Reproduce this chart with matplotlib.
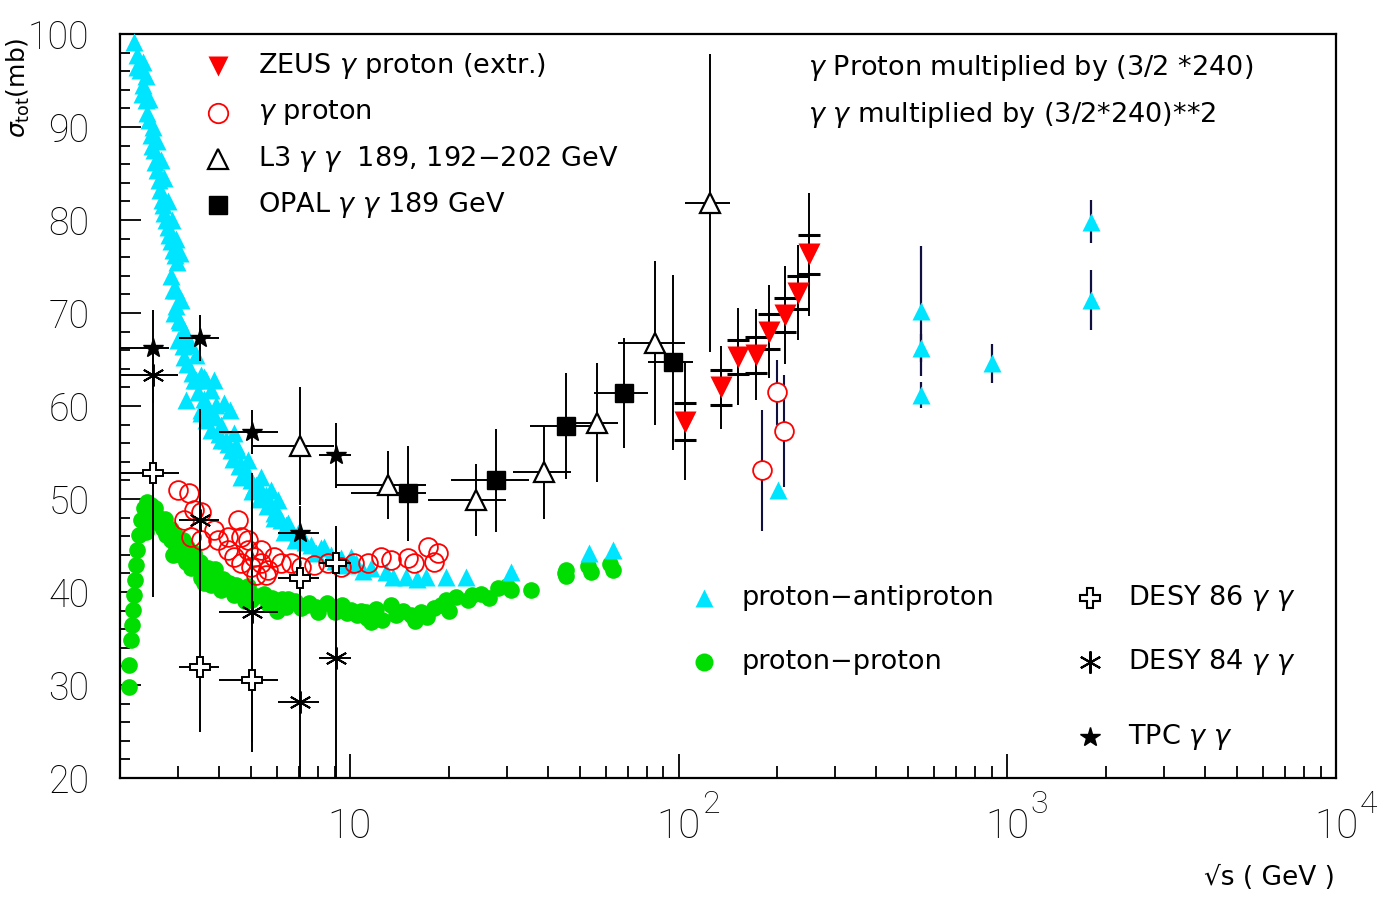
import numpy as np
import matplotlib
matplotlib.use("Agg")
import matplotlib.pyplot as plt

plt.rcParams['font.family'] = ['DejaVu Sans']
plt.rcParams['mathtext.fontset'] = 'dejavusans'

TICKFONT = ['Roboto', 'DejaVu Sans']

# ---------------- data ----------------
# proton-proton (green)
pp_x = [2.13, 2.13, 2.16, 2.175, 2.19, 2.205, 2.22, 2.236, 2.252, 2.284, 2.316, 2.365, 2.415,
        2.484, 2.572, 2.664, 2.758, 2.857, 2.958, 3.064, 3.173, 3.286, 3.525, 3.78, 4.055, 4.44,
        5.0, 5.634, 6.39, 7.097, 7.88, 8.94, 10.07, 11.18, 11.58, 13.32, 13.8, 15.33, 16.44, 18.0,
        19.58, 21.0, 22.84, 25.01, 28.17, 30.86, 35.5, 45.35, 45.35, 54.0, 63.0,
        2.5, 2.7, 3.0, 3.4, 3.9, 4.5, 5.5, 6.5, 7.5, 9.5,
        2.4, 2.9, 3.6, 4.8, 6.0, 8.0, 10.5, 12.5,
        2.45, 2.55, 2.6, 2.75, 2.85, 2.95, 3.1, 3.2, 3.35, 3.5, 3.7, 3.9, 4.1, 4.3, 4.6, 4.9,
        5.2, 5.8, 6.2, 6.8, 7.4, 8.5, 9.0, 9.8, 10.8, 11.3, 12.0, 14.5, 15.8, 17.2, 19.0, 20.0,
        23.5, 26.5, 30.0, 45.0, 53.0, 62.0]
pp_y = [32.2, 29.8, 34.8, 36.5, 38.1, 39.7, 41.3, 42.9, 44.5, 46.1, 47.7, 49.0, 49.7,
        49.4, 48.3, 47.2, 46.1, 45.6, 44.7, 44.0, 43.2, 42.6, 41.5, 40.8, 40.2, 39.7,
        39.1, 38.7, 38.4, 38.3, 38.4, 38.4, 38.1, 37.8, 36.8, 38.6, 37.5, 37.5, 37.8, 38.3,
        39.1, 39.5, 39.1, 39.8, 40.4, 40.2, 40.2, 41.7, 42.4, 42.2, 42.4,
        47.5, 46.8, 45.2, 43.3, 41.8, 40.8, 39.8, 39.2, 38.8, 38.6,
        46.5, 44.0, 41.0, 39.0, 38.0, 37.8, 37.5, 37.0,
        48.5, 49.0, 47.5, 47.8, 46.8, 46.0, 45.6, 44.8, 44.2, 43.2, 42.6, 42.5, 41.4, 41.0, 40.3, 40.6,
        39.6, 39.4, 39.3, 39.0, 38.6, 38.8, 37.9, 37.7, 38.0, 37.2, 38.2, 38.0, 36.9, 37.3, 38.6, 38.0,
        39.7, 39.4, 40.6, 42.0, 42.8, 43.0]

# proton-antiproton (cyan)
ppbar_x = [2.205, 2.252, 2.30, 2.349, 2.399, 2.449, 2.484, 2.537, 2.591, 2.645, 2.701, 2.758,
           2.817, 2.897, 2.979, 2.958, 3.064, 3.021, 3.129, 3.173, 3.286, 3.403, 3.173, 3.403,
           3.525, 3.65, 3.78, 3.915, 3.525, 3.65, 3.78, 4.055, 4.2, 4.348, 4.503, 4.664, 4.83,
           5.0, 5.18, 5.364, 5.556, 5.753, 5.958, 6.17, 6.39, 6.619, 7.097, 7.61, 8.165, 8.754,
           9.39, 10.43, 11.58, 12.87, 14.8, 17.02, 19.58, 22.52, 30.86, 53.27, 63.0, 201.0,
           2.917, 3.0, 3.129, 3.356, 3.598, 3.86, 3.525, 3.78, 4.14, 4.33, 4.055, 4.44, 4.566,
           4.898, 4.664, 5.364, 5.753, 5.11, 6.043, 5.875, 6.48, 6.95, 8.34, 10.07,
           2.85, 2.9, 2.95, 3.05, 3.1, 3.2, 3.3, 3.45, 3.6, 3.7, 3.85, 4.0, 4.25, 4.4, 4.6, 4.75,
           5.05, 5.3, 5.6, 5.9, 6.3, 6.8, 7.3, 7.9, 9.0, 9.8, 11.0, 13.5, 16.0,
           2.26, 2.33, 2.42, 2.5, 2.56, 2.62, 2.68, 2.73, 2.79, 2.86, 2.93,
           2.35, 2.4, 2.45, 2.52, 2.6, 2.66, 2.72, 2.8, 2.88, 2.95, 3.05]
ppbar_y = [99.1, 97.7, 96.1, 94.5, 92.9, 90.8, 89.1, 87.5, 85.4, 83.2, 81.6, 80.0,
           78.4, 76.8, 75.5, 72.5, 71.4, 69.2, 68.2, 67.1, 66.6, 65.5, 60.6, 62.8,
           63.3, 62.8, 61.7, 60.1, 59.6, 58.5, 57.4, 58.0, 56.3, 55.3, 55.8, 53.7, 53.1,
           52.0, 51.5, 51.0, 50.4, 49.4, 48.8, 47.7, 47.2, 46.7, 46.1, 45.1, 44.7, 44.0,
           43.7, 43.1, 42.6, 42.2, 41.6, 41.6, 41.6, 41.6, 42.2, 44.2, 44.5, 51.0,
           70.0, 67.1, 65.3, 62.8, 63.1, 62.8, 59.2, 58.8, 60.3, 59.6, 56.3, 57.1, 55.3,
           54.2, 52.4, 52.4, 51.0, 51.3, 49.9, 48.5, 47.4, 46.3, 44.8, 43.8,
           74.0, 72.5, 70.8, 69.0, 66.5, 64.5, 63.6, 61.5, 60.8, 59.8, 59.0, 57.0, 55.9, 54.3, 53.6, 52.6,
           50.9, 50.0, 49.3, 48.0, 46.5, 45.6, 45.4, 44.2, 43.3, 42.9, 42.3, 41.6, 41.4,
           96.5, 93.5, 91.5, 88.0, 86.2, 84.3, 82.2, 80.8, 79.2, 77.7, 76.2,
           97.0, 95.5, 93.0, 90.0, 88.5, 86.5, 84.5, 82.0, 80.0, 78.0, 76.5]

# high-energy proton-antiproton with errors
ppbar_he_x = [546, 546, 546, 900, 1800, 1800]
ppbar_he_y = [70.2, 66.2, 61.2, 64.6, 79.8, 71.4]
ppbar_he_err = [7.0, 1.5, 1.4, 2.1, 2.3, 3.2]

# gamma proton (red open circles)
gp_x = [3.0, 3.24, 3.356, 3.129, 3.525, 3.286, 3.525, 3.86, 3.97, 4.258, 4.566, 4.664, 4.898,
        4.258, 4.44, 4.898, 5.11, 5.364, 4.664, 5.0, 5.364, 5.634, 5.875, 6.17, 6.619, 7.097,
        7.77, 8.575, 9.39, 10.28, 11.34, 12.43, 13.32, 15.01, 15.65, 17.26, 18.51, 18.0,
        5.18, 5.556]
gp_y = [51.0, 50.6, 48.8, 47.7, 48.6, 45.9, 45.6, 46.7, 45.6, 45.9, 47.7, 45.9, 45.6,
        44.5, 43.8, 44.5, 43.8, 44.5, 43.1, 42.7, 43.1, 42.4, 43.8, 43.1, 43.1, 42.7,
        42.9, 43.1, 42.7, 43.1, 43.1, 43.8, 43.4, 43.7, 43.1, 44.8, 44.2, 43.2,
        41.8, 41.8]
gp_he_x = [180.0, 200.0, 210.0]
gp_he_y = [53.1, 61.5, 57.3]
gp_he_err = [6.5, 3.5, 6.0]

# ZEUS gamma proton (extr.)
zeus_x = [104.3, 134.2, 152.2, 172.6, 189.1, 211.5, 231.5, 250.1]
zeus_y = [58.3, 62.0, 65.3, 65.5, 68.0, 69.8, 72.2, 76.3]
zeus_stat = [2.0, 1.9, 1.85, 1.9, 1.85, 1.85, 1.75, 2.1]
zeus_tot = [6.3, 4.5, 5.2, 4.9, 5.0, 5.3, 5.1, 6.6]

# L3 gamma gamma
l3_x = [7.047, 13.05, 24.15, 38.9, 56.33, 85.1, 125.1]
l3_y = [55.7, 51.5, 49.9, 52.9, 58.2, 66.8, 81.8]
l3_yerr = [6.3, 3.7, 3.9, 5.0, 6.4, 8.8, 16.0]
l3_xlo = [5.07, 9.07, 17.26, 31.29, 46.96, 65.26, 105.0]
l3_xhi = [8.94, 17.0, 29.8, 46.96, 65.26, 105.0, 143.9]

# OPAL gamma gamma
opal_x = [15.01, 27.79, 45.35, 68.06, 95.9]
opal_y = [50.6, 52.0, 57.8, 61.4, 64.7]
opal_yerr = [5.1, 5.5, 5.7, 5.9, 9.4]
opal_xlo = [10.07, 20.28, 35.25, 55.15, 80.5]
opal_xhi = [17.02, 35.0, 55.15, 80.5, 110.3]

# DESY 86 gamma gamma
d86_x = [2.519, 3.50, 5.037, 7.047, 9.07]
d86_y = [52.8, 31.9, 30.5, 41.5, 43.1]
d86_yerr = [13.3, 7.0, 6.6, 4.0, 4.0]
d86_xlo = [2.01, 3.02, 4.0, 6.043, 8.05]
d86_xhi = [3.02, 4.0, 6.043, 8.05, 10.07]

# DESY 84 gamma gamma
d84_x = [2.519, 3.50, 5.037, 7.047, 9.07]
d84_y = [63.3, 47.7, 37.8, 28.2, 32.9]
d84_yerr = [3.0, 12.0, 15.0, 10.0, 14.0]
d84_xlo = [2.01, 3.02, 4.0, 6.043, 8.05]
d84_xhi = [3.0, 4.0, 6.043, 8.05, 10.07]

# TPC gamma gamma
tpc_x = [2.519, 3.50, 5.037, 7.047, 9.07]
tpc_y = [66.2, 67.3, 57.2, 46.3, 54.7]
tpc_yerr = [4.1, 2.5, 2.4, 3.0, 3.5]
tpc_xlo = [2.01, 3.021, 4.0, 6.043, 8.05]
tpc_xhi = [2.817, 4.0, 6.043, 8.05, 10.07]

x_decades = [10, 100, 1000, 10000]
x_decade_exp = ["", "2", "3", "4"]
y_major = [20, 30, 40, 50, 60, 70, 80, 90, 100]

# ---------------- colours ----------------
CYAN = '#00e5ff'
GREEN = '#00dd00'
RED = '#ff0000'

fig = plt.figure(figsize=(13.86, 9.09), dpi=100)
ax = fig.add_axes([0.0866, 0.1441, 0.8773, 0.8185])
ax.set_xscale('log')
ax.set_xlim(2, 1e4)
ax.set_ylim(20, 100)


def xe(x, lo, hi):
    x = np.asarray(x)
    return [x - np.asarray(lo), np.asarray(hi) - x]


# green proton-proton
ax.plot(pp_x, pp_y, 'o', color=GREEN, ms=12, mec='none', zorder=2, clip_on=False)
# cyan proton-antiproton
ax.plot(ppbar_x, ppbar_y, '^', color=CYAN, ms=12.5, mec='none', zorder=3, clip_on=False)
ax.errorbar(ppbar_he_x, ppbar_he_y, yerr=ppbar_he_err, fmt='none', ecolor='#101040',
            elinewidth=1.6, zorder=3)
ax.plot(ppbar_he_x, ppbar_he_y, '^', color=CYAN, ms=12.5, mec='none', zorder=3.5)

# gamma proton circles
ax.plot(gp_x, gp_y, 'o', mfc='none', mec=RED, mew=1.3, ms=13.5, zorder=4.6)
ax.errorbar(gp_he_x, gp_he_y, yerr=gp_he_err, fmt='none', ecolor='#101040', elinewidth=1.5, zorder=4)
ax.plot(gp_he_x, gp_he_y, 'o', mfc='white', mec=RED, mew=1.3, ms=13.5, zorder=4.5)

# black gamma-gamma data
ekw = dict(fmt='none', ecolor='black', elinewidth=1.4, zorder=5)
ax.errorbar(tpc_x, tpc_y, yerr=tpc_yerr, xerr=xe(tpc_x, tpc_xlo, tpc_xhi), **ekw)
ax.errorbar(d84_x, d84_y, yerr=d84_yerr, xerr=xe(d84_x, d84_xlo, d84_xhi), **ekw)
ax.errorbar(d86_x, d86_y, yerr=d86_yerr, xerr=xe(d86_x, d86_xlo, d86_xhi), **ekw)
ax.errorbar(l3_x, l3_y, yerr=l3_yerr, xerr=xe(l3_x, l3_xlo, l3_xhi), **ekw)
ax.errorbar(opal_x, opal_y, yerr=opal_yerr, xerr=xe(opal_x, opal_xlo, opal_xhi), **ekw)

ax.plot(tpc_x, tpc_y, '*', color='black', ms=15, zorder=6)
ax.plot(d84_x, d84_y, marker=(6, 2, 0), ls='none', color='black', ms=16, mew=1.4, zorder=6)
ax.plot(d86_x, d86_y, 'P', mfc='white', mec='black', ms=14, mew=1.4, zorder=6)
ax.plot(l3_x, l3_y, '^', mfc='white', mec='black', ms=14, mew=1.6, zorder=6)
ax.plot(opal_x, opal_y, 's', color='black', ms=12.5, zorder=6)

# ZEUS
ax.errorbar(zeus_x, zeus_y, yerr=zeus_tot, fmt='none', ecolor='black', elinewidth=1.4, zorder=6)
ax.errorbar(zeus_x, zeus_y, yerr=zeus_stat, fmt='none', ecolor='black', elinewidth=1.4,
            capsize=8, capthick=2.2, zorder=6)
ax.plot(zeus_x, zeus_y, 'v', color=RED, ms=16.5, mec='none', zorder=7)

# ---------------- axes styling ----------------
for s in ax.spines.values():
    s.set_linewidth(1.6)
ax.set_yticks(y_major)
ax.set_yticks(np.arange(20, 101, 2), minor=True)
ax.set_xticks(x_decades)
ax.set_xticklabels([])
ax.tick_params(axis='both', which='both', direction='in', top=False, right=False, width=1.3)
ax.tick_params(axis='y', which='major', length=15, pad=22, labelsize=27)
ax.tick_params(axis='y', which='minor', length=7)
ax.tick_params(axis='x', which='major', length=17)
ax.tick_params(axis='x', which='minor', length=9)
for lab in ax.get_yticklabels():
    lab.set_fontweight('light')
    lab.set_family(TICKFONT)

for v, e in zip(x_decades, x_decade_exp):
    ax.annotate("10", xy=(v, 0), xycoords=('data', 'axes fraction'), xytext=(0, -43),
                textcoords='offset points', ha='center', va='baseline', fontsize=29,
                fontweight='light', family=TICKFONT, annotation_clip=False)
    if e:
        ax.annotate(e, xy=(v, 0), xycoords=('data', 'axes fraction'), xytext=(17, -25),
                    textcoords='offset points', ha='left', va='baseline', fontsize=23,
                    fontweight='light', family=TICKFONT, annotation_clip=False)

fig.text(18 / 1386, 1 - 88 / 909, r'$\sigma_{\mathrm{tot}}\mathrm{(mb)}$', rotation=90,
         ha='center', va='center', fontsize=18)
fig.text(1335 / 1386, 1 - 878 / 909, '√s ( GeV )', ha='right', va='center', fontsize=19)

# ---------------- legends (text layer) ----------------
tk = dict(transform=ax.transAxes, fontsize=19.5, va='center', ha='left')
mk = dict(transform=ax.transAxes, clip_on=False, ls='none')
G = r'$\gamma$'
rows = [0.957, 0.894, 0.832, 0.770]
ax.plot([0.0806], [rows[0]], 'v', color=RED, ms=15, mec='none', **mk)
ax.plot([0.0806], [rows[1]], 'o', mfc='none', mec=RED, mew=1.3, ms=14, **mk)
ax.plot([0.0806], [rows[2]], '^', mfc='white', mec='black', mew=1.6, ms=14, **mk)
ax.plot([0.0806], [rows[3]], 's', color='black', ms=13, **mk)
ax.text(0.1135, rows[0], f'ZEUS {G} proton (extr.)', **tk)
ax.text(0.1135, rows[1], f'{G} proton', **tk)
ax.text(0.1135, rows[2], f'L3 {G} {G}  189, 192−202 GeV', **tk)
ax.text(0.1135, rows[3], f'OPAL {G} {G} 189 GeV', **tk)

ax.text(0.566, 0.954, f'{G} Proton multiplied by (3/2 *240)', **tk)
ax.text(0.566, 0.891, f'{G} {G} multiplied by (3/2*240)**2', **tk)

ax.plot([0.480], [0.242], '^', color=CYAN, ms=13, mec='none', **mk)
ax.plot([0.480], [0.156], 'o', color=GREEN, ms=13, mec='none', **mk)
ax.text(0.5115, 0.242, 'proton−antiproton', **tk)
ax.text(0.5115, 0.156, 'proton−proton', **tk)

ax.plot([0.798], [0.242], 'P', mfc='white', mec='black', mew=1.5, ms=14, **mk)
ax.plot([0.798], [0.156], marker=(6, 2, 0), color='black', ms=16, mew=1.5, **mk)
ax.plot([0.798], [0.055], '*', color='black', ms=15, **mk)
ax.text(0.829, 0.242, f'DESY 86 {G} {G}', **tk)
ax.text(0.829, 0.156, f'DESY 84 {G} {G}', **tk)
ax.text(0.829, 0.055, f'TPC {G} {G}', **tk)

fig.savefig('out.png', dpi=100)
